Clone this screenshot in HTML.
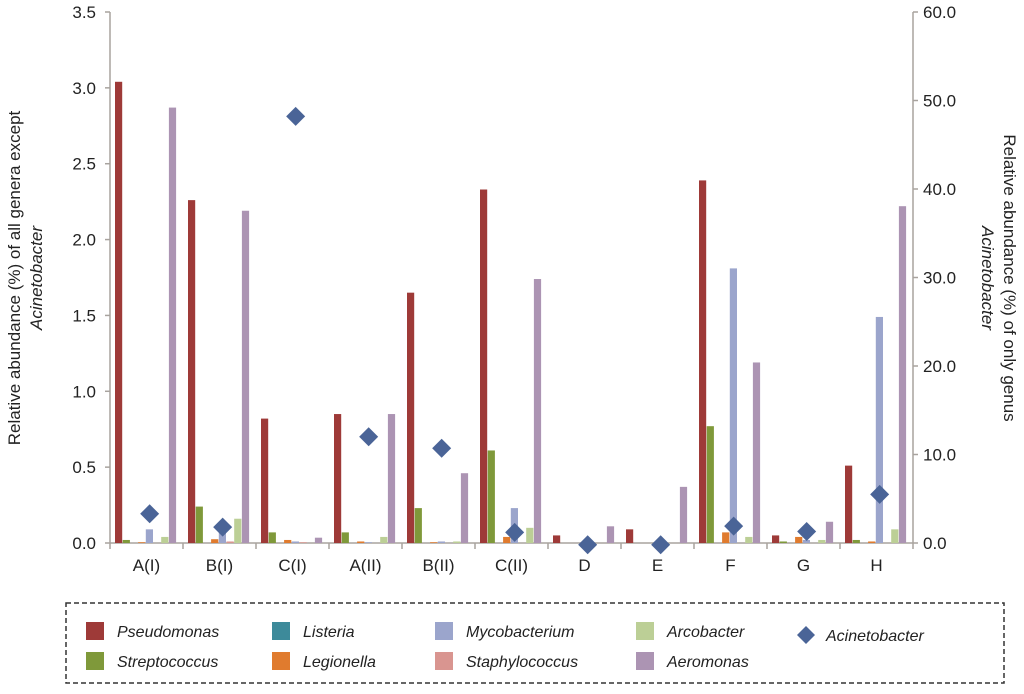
<!DOCTYPE html>
<html><head><meta charset="utf-8"><style>
body{margin:0;background:#fff;font-family:"Liberation Sans",sans-serif;}
svg text{font-family:"Liberation Sans",sans-serif;fill:#222;}
</style></head><body>
<svg id="chart" width="1024" height="689">
<g id="axes"></g><g id="bars"></g><g id="pts"></g>
<text transform="translate(20,278) rotate(-90)" text-anchor="middle" font-size="17"><tspan x="0" dy="0">Relative abundance (%) of all genera except</tspan><tspan x="0" dy="22" font-style="italic">Acinetobacter</tspan></text>
<text transform="translate(1004,278) rotate(90)" text-anchor="middle" font-size="17"><tspan x="0" dy="0">Relative abundance (%) of only genus</tspan><tspan x="0" dy="22" font-style="italic">Acinetobacter</tspan></text>
<rect x="66" y="603" width="938" height="80" fill="none" stroke="#333" stroke-width="1.5" stroke-dasharray="5,3"/>
<g id="legend"></g>
</svg>
<script>
const categories=["A(I)","B(I)","C(I)","A(II)","B(II)","C(II)","D","E","F","G","H"];
const seriesNames=["Pseudomonas","Streptococcus","Listeria","Legionella","Mycobacterium","Staphylococcus","Arcobacter","Aeromonas"];
const pseudomonas=[3.04,2.26,0.82,0.85,1.65,2.33,0.05,0.09,2.39,0.05,0.51];
const streptococcus=[0.02,0.24,0.07,0.07,0.23,0.61,0,0,0.77,0.01,0.02];
const listeria=[0,0,0,0,0,0,0,0,0,0,0];
const legionella=[0.005,0.025,0.02,0.01,0.005,0.04,0,0,0.07,0.04,0.01];
const mycobacterium=[0.09,0.08,0.01,0.005,0.01,0.23,0,0.01,1.81,0.02,1.49];
const staphylococcus=[0,0.01,0.005,0,0,0,0,0,0,0,0];
const arcobacter=[0.04,0.16,0,0.04,0.01,0.1,0,0,0.04,0.02,0.09];
const aeromonas=[2.87,2.19,0.035,0.85,0.46,1.74,0.11,0.37,1.19,0.14,2.22];
const acinetobacter=[3.3,1.8,48.2,12.0,10.7,1.2,-0.2,-0.2,1.9,1.3,5.5];
const leftTicks=["0.0","0.5","1.0","1.5","2.0","2.5","3.0","3.5"];
const rightTicks=["0.0","10.0","20.0","30.0","40.0","50.0","60.0"];
const colors=["#9e3a38","#7f993a","#3d8a9a","#e07b2e","#9ba5cc","#d99590","#bccf96","#ac94b3"];
const allSeries=[pseudomonas,streptococcus,listeria,legionella,mycobacterium,staphylococcus,arcobacter,aeromonas];
const NS="http://www.w3.org/2000/svg";
const X0=110,BAND=73,Y0=543,Y1=12;
const yL=v=>Y0-(v/3.5)*(Y0-Y1);
const yR=v=>Y0-(v/60)*(Y0-Y1);
function mk(t,a,p){const e=document.createElementNS(NS,t);for(const k in a)e.setAttribute(k,a[k]);p.appendChild(e);return e;}
const ax=document.getElementById('axes');
let e=mk('line',{x1:X0,y1:Y1,x2:X0,y2:Y0,stroke:'#a8a39e','stroke-width':1.5},ax);


e=mk('line',{x1:X0+BAND*11,y1:Y1,x2:X0+BAND*11,y2:Y0,stroke:'#a8a39e','stroke-width':1.5},ax);


e=mk('line',{x1:X0,y1:Y0,x2:X0+BAND*11,y2:Y0,stroke:'#a8a39e','stroke-width':1.5},ax);


leftTicks.forEach(t=>{const y=yL(parseFloat(t));
 mk('line',{x1:X0-5,y1:y,x2:X0,y2:y,stroke:'#a8a39e','stroke-width':1.5},ax);
 const tx=mk('text',{x:X0-14,y:y+6,'text-anchor':'end','font-size':17},ax);tx.textContent=t;
 
 });
rightTicks.forEach(t=>{const y=yR(parseFloat(t));const xr=X0+BAND*11;
 mk('line',{x1:xr,y1:y,x2:xr+5,y2:y,stroke:'#a8a39e','stroke-width':1.5},ax);
 const tx=mk('text',{x:xr+10,y:y+6,'font-size':17},ax);tx.textContent=t;
 
 });
for(let i=0;i<=11;i++){const x=X0+BAND*i;mk('line',{x1:x,y1:Y0,x2:x,y2:Y0+6,stroke:'#a8a39e','stroke-width':1.5},ax);}
categories.forEach((c,i)=>{const tx=mk('text',{x:X0+BAND*i+BAND/2,y:Y0+28,'text-anchor':'middle','font-size':17},ax);tx.textContent=c;
 
 });
const bg=document.getElementById('bars'),pg=document.getElementById('pts');
const BW=7.7;
allSeries.forEach((s,k)=>{s.forEach((v,i)=>{const x=X0+BAND*i+5+k*BW;const y=yL(v);
 const r=mk('rect',{x:x,y:y,width:BW-0.5,height:Math.max(0,Y0-y),fill:colors[k]},bg);
 
 });});
acinetobacter.forEach((v,i)=>{const cx=X0+BAND*i+5+4*BW+BW/2,cy=yR(v),d=9.5;
 const p=mk('polygon',{points:`${cx},${cy-d} ${cx+d},${cy} ${cx},${cy+d} ${cx-d},${cy}`,fill:'#4a6497'},pg);
 
 });
const lg=document.getElementById('legend');
const legItems=[[0,86,631],[2,272,631],[4,435,631],[6,636,631],[1,86,661],[3,272,661],[5,435,661],[7,636,661]];
legItems.forEach(([k,x,y])=>{const r=mk('rect',{x:x,y:y-9,width:18,height:18,fill:colors[k]},lg);
 
 
 const t=mk('text',{x:x+31,y:y+6,'font-size':16,'font-style':'italic'},lg);t.textContent=seriesNames[k];
 
 });
const dm=mk('polygon',{points:'806,626 815,635 806,644 797,635',fill:'#4a6497'},lg);


const at=mk('text',{x:826,y:641,'font-size':16,'font-style':'italic'},lg);at.textContent='Acinetobacter';


</script>
</body></html>
